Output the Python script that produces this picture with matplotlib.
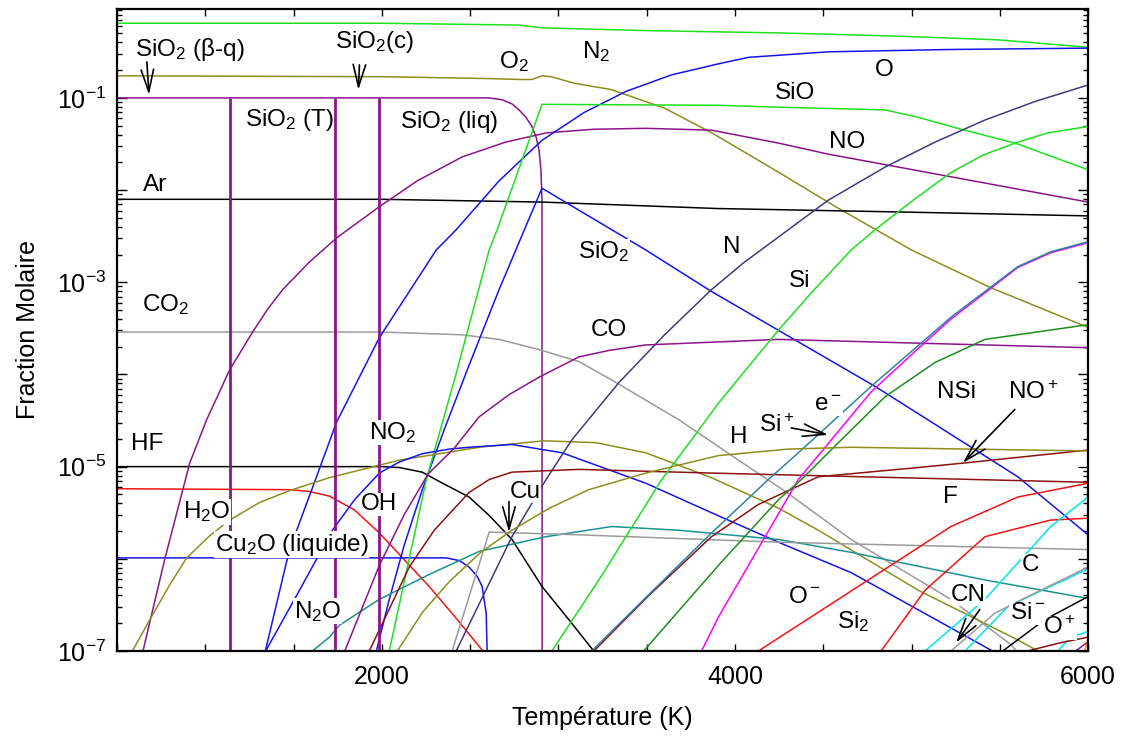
import numpy as np
import matplotlib
matplotlib.use('Agg')
import matplotlib.pyplot as plt
from matplotlib.ticker import LogLocator, FuncFormatter, NullFormatter

plt.rcParams['font.family'] = ['Liberation Sans', 'DejaVu Sans']
plt.rcParams['mathtext.fontset'] = 'custom'
plt.rcParams['mathtext.rm'] = 'Liberation Sans'
plt.rcParams['mathtext.it'] = 'Liberation Sans:italic'
plt.rcParams['mathtext.bf'] = 'Liberation Sans:bold'

# temperature (K) and log10(mole fraction)
t_N2 = [500, 2000, 2780, 2907, 3500, 4250, 4924, 5489, 6000]
lg_N2 = [-0.19, -0.19, -0.21, -0.24, -0.27, -0.295, -0.33, -0.37, -0.45]

t_O2 = [500, 2000, 2600, 2780, 2850, 2907, 2960, 3088, 3300, 3600, 3870, 4250, 4570, 5000, 5450, 6000]
lg_O2 = [-0.76, -0.77, -0.79, -0.80, -0.80, -0.76, -0.77, -0.84, -0.91, -1.11, -1.38, -1.81, -2.18, -2.65, -3.06, -3.49]

t_SiO2_cd = [500, 2000, 2608, 2681, 2737, 2777, 2816, 2850, 2873, 2890, 2901, 2907, 2908]
lg_SiO2_cd = [-1.0, -1.0, -1.0, -1.02, -1.065, -1.13, -1.21, -1.31, -1.42, -1.56, -1.78, -2.1, -8.0]
t_SiO2_phase = [1138, 1737, 1986]  # beta-quartz / tridymite / cristobalite / liquid

t_Ar = [500, 2000, 2907, 3900, 5000, 6000]
lg_Ar = [-2.10, -2.10, -2.13, -2.20, -2.24, -2.28]

t_CO2 = [500, 2000, 2455, 2664, 2890, 3116, 3302, 3681, 4020, 4286, 4658, 5223, 5562, 5620]
lg_CO2 = [-3.54, -3.54, -3.57, -3.62, -3.73, -3.86, -4.06, -4.49, -4.93, -5.27, -5.79, -6.44, -6.93, -7.05]

t_HF = [500, 2000, 2099, 2229, 2324, 2494, 2608, 2737, 2907, 3059, 3200]
lg_HF = [-5.0, -5.0, -5.01, -5.06, -5.16, -5.33, -5.53, -5.79, -6.30, -6.66, -7.0]

t_H2O = [500, 1480, 1590, 1703, 1845, 1986, 2127, 2268, 2410, 2568, 2580]
lg_H2O = [-5.24, -5.25, -5.27, -5.32, -5.47, -5.72, -6.01, -6.30, -6.62, -6.99, -7.1]

t_Cu2O = [500, 2365, 2440, 2494, 2540, 2568, 2591, 2596, 2598]
lg_Cu2O = [-5.99, -5.99, -6.02, -6.09, -6.19, -6.30, -6.59, -6.99, -7.3]

t_NO = [647, 771, 912, 1008, 1138, 1268, 1350, 1438, 1590, 1743, 1986, 2200, 2455, 2700, 2930, 3200, 3495, 3867, 4246, 4528, 6000]
lg_NO = [-7.0, -6.0, -4.96, -4.49, -3.95, -3.54, -3.30, -3.08, -2.78, -2.52, -2.18, -1.90, -1.64, -1.48, -1.38, -1.34, -1.33, -1.35, -1.49, -1.61, -2.13]

t_SiO2_g = [1969, 2042, 2127, 2229, 2353, 2494, 2664, 2794, 2907, 3495, 3867, 4794, 5602, 6000]
lg_SiO2_g = [-7.0, -6.44, -5.85, -5.25, -4.60, -3.90, -3.08, -2.49, -1.98, -2.65, -3.10, -4.13, -5.11, -5.74]

t_O = [1340, 1477, 1630, 1743, 1986, 2308, 2421, 2664, 2907, 3144, 3382, 3641, 3907, 4076, 4528, 5206, 6000]
lg_O = [-7.0, -5.9, -5.11, -4.52, -3.60, -2.65, -2.43, -1.90, -1.46, -1.16, -0.93, -0.75, -0.63, -0.56, -0.50, -0.475, -0.46]

t_SiO = [2042, 2252, 2421, 2608, 2653, 2907, 3907, 4229, 4851, 5037, 5223, 5602, 6000]
lg_SiO = [-7.0, -5.14, -3.99, -2.65, -2.43, -1.07, -1.08, -1.10, -1.13, -1.21, -1.31, -1.50, -1.78]

t_NO2 = [590, 686, 799, 895, 1025, 1138, 1307, 1477, 1703, 2099, 2551, 2918, 3212, 3495, 3867, 4246, 4472, 5037, 5602, 5715]
lg_NO2 = [-6.99, -6.66, -6.28, -5.99, -5.75, -5.58, -5.39, -5.26, -5.12, -4.93, -4.79, -4.72, -4.74, -4.85, -5.12, -5.45, -5.69, -6.34, -6.88, -7.0]

t_OH = [1342, 1534, 1720, 1845, 1986, 2099, 2229, 2381, 2494, 2737, 3020, 3495, 3867, 4246, 4658, 5449]
lg_OH = [-7.0, -6.34, -5.69, -5.36, -5.07, -4.95, -4.86, -4.81, -4.79, -4.76, -4.85, -5.18, -5.50, -5.82, -6.15, -6.99]

t_N2O = [1607, 1703, 1760, 1986, 2268, 2551, 2930, 3302, 3681, 4246, 4658, 5416, 6000]
lg_N2O = [-7.0, -6.85, -6.72, -6.44, -6.17, -5.92, -5.76, -5.65, -5.69, -5.79, -5.93, -6.23, -6.43]

t_Cu = [2398, 2608, 3116, 4246, 6000]
lg_Cu = [-7.0, -5.71, -5.74, -5.82, -5.90]

t_N = [2421, 2737, 2930, 3076, 3342, 3596, 3867, 4048, 4246, 4528, 4851, 5133, 5416, 5698, 6000]
lg_N = [-7.0, -5.76, -5.14, -4.71, -4.09, -3.58, -3.08, -2.79, -2.51, -2.11, -1.75, -1.48, -1.24, -1.04, -0.86]

t_CO = [1790, 1986, 2127, 2262, 2410, 2551, 2720, 2890, 3116, 3285, 3495, 4246, 6000]
lg_CO = [-7.0, -6.07, -5.52, -5.08, -4.80, -4.46, -4.22, -4.03, -3.81, -3.74, -3.68, -3.62, -3.71]

t_F = [1929, 1986, 2155, 2297, 2494, 2608, 2737, 3116, 3867, 6000]
lg_F = [-7.0, -6.77, -6.09, -5.69, -5.28, -5.14, -5.06, -5.03, -5.07, -5.17]

t_NOp = [3201, 3511, 3867, 4133, 4472, 5037, 5303, 6000]
lg_NOp = [-7.0, -6.40, -5.76, -5.41, -5.11, -5.01, -4.96, -4.82]

t_em = [3189, 3511, 3867, 4189, 4359, 4771, 5223, 5602, 5788, 6000]
lg_em = [-7.0, -6.39, -5.72, -5.14, -4.85, -4.13, -3.38, -2.83, -2.67, -2.56]

t_Sip = [3811, 3907, 4359, 4771, 5037, 5223, 5602, 5788, 6000]
lg_Sip = [-7.0, -6.63, -5.14, -4.19, -3.72, -3.40, -2.84, -2.68, -2.57]

t_NSi = [3483, 3907, 4246, 4376, 4602, 4851, 5133, 5416, 6000]
lg_NSi = [-7.0, -6.07, -5.36, -5.14, -4.71, -4.24, -3.87, -3.62, -3.46]

t_Si = [2963, 3229, 3585, 3754, 3907, 4246, 4444, 4658, 4794, 5009, 5223, 5405, 5602, 5771, 6000]
lg_Si = [-7.0, -6.23, -5.14, -4.71, -4.31, -3.52, -3.09, -2.65, -2.43, -2.11, -1.81, -1.62, -1.48, -1.38, -1.31]

t_H = [2088, 2230, 2381, 2560, 2737, 2950, 3172, 3495, 3907, 4300, 4658, 6000]
lg_H = [-7.0, -6.58, -6.25, -5.93, -5.69, -5.45, -5.25, -5.07, -4.88, -4.81, -4.79, -4.83]

t_Om = [4133, 4698, 4924, 5223, 5602, 6000]
lg_Om = [-7.0, -6.30, -6.02, -5.65, -5.33, -5.18]

t_Si2 = [4828, 5077, 5416, 5788, 6000]
lg_Si2 = [-7.0, -6.34, -5.76, -5.58, -5.56]

t_C = [5077, 5416, 5788, 6000]
lg_C = [-7.0, -6.44, -5.65, -5.33]

t_Sim = [5303, 5545, 5619, 6000]
lg_Sim = [-7.0, -6.52, -6.45, -6.11]

t_CN = [5223, 5472, 5658, 6000]
lg_CN = [-7.0, -6.59, -6.41, -6.09]

t_Op = [5517, 5755, 6000]
lg_Op = [-7.0, -6.66, -6.41]

# small unlabeled species just entering in the lower right corner
t_minor_cyan = [5830, 5901, 6000]
lg_minor_cyan = [-7.0, -6.85, -6.79]
t_minor_brown = [5658, 5845, 6000]
lg_minor_brown = [-7.0, -6.91, -6.85]
t_minor_purple = [5930, 6000]
lg_minor_purple = [-7.0, -6.90]
t_minor_orange = [5980, 6000]
lg_minor_orange = [-7.0, -6.88]

GREEN = '#1ee01e'
OLIVE = '#8e8e1e'
PURPLE = '#8a158a'
BLUE = '#1414f0'
GRAY = '#9a9a9a'
RED = '#f01414'
NAVY = '#3c3c7c'
TEAL = '#1e9090'
BROWN = '#8b1212'
STEEL = '#2c84a0'
MAGENTA = '#ff00ff'
DKGREEN = '#1e8c1e'
CYAN = '#00e6f0'

series = [
    (t_N2, lg_N2, GREEN), (t_O2, lg_O2, OLIVE), (t_SiO2_cd, lg_SiO2_cd, PURPLE),
    (t_Ar, lg_Ar, 'black'), (t_CO2, lg_CO2, GRAY), (t_HF, lg_HF, 'black'),
    (t_H2O, lg_H2O, RED), (t_Cu2O, lg_Cu2O, BLUE), (t_NO, lg_NO, PURPLE),
    (t_SiO2_g, lg_SiO2_g, BLUE), (t_O, lg_O, BLUE), (t_SiO, lg_SiO, GREEN),
    (t_NO2, lg_NO2, OLIVE), (t_OH, lg_OH, BLUE), (t_N2O, lg_N2O, TEAL),
    (t_Cu, lg_Cu, GRAY), (t_N, lg_N, NAVY), (t_CO, lg_CO, PURPLE),
    (t_F, lg_F, BROWN), (t_NOp, lg_NOp, BROWN), (t_Sip, lg_Sip, MAGENTA),
    (t_em, lg_em, STEEL), (t_NSi, lg_NSi, DKGREEN), (t_Si, lg_Si, GREEN),
    (t_H, lg_H, OLIVE), (t_Om, lg_Om, RED), (t_Si2, lg_Si2, RED),
    (t_C, lg_C, CYAN), (t_Sim, lg_Sim, CYAN), (t_CN, lg_CN, GRAY),
    (t_Op, lg_Op, 'black'), (t_minor_cyan, lg_minor_cyan, CYAN),
    (t_minor_brown, lg_minor_brown, BROWN), (t_minor_purple, lg_minor_purple, PURPLE),
    (t_minor_orange, lg_minor_orange, '#ff8c00'),
]

# label placement (T, log10 y)
labels = [
    ('SiO$_2$ (β-q)', 912, -0.48), ('SiO$_2$(c)', 1958, -0.39), ('O$_2$', 2749, -0.61),
    ('N$_2$', 3212, -0.50), ('SiO$_2$ (T)', 1477, -1.24), ('SiO$_2$ (liq)', 2381, -1.26),
    ('SiO', 4342, -0.946), ('O', 4845, -0.70), ('NO', 4636, -1.477), ('Ar', 715, -1.944),
    ('SiO$_2$', 3257, -2.67), ('N', 3980, -2.616), ('Si', 4365, -2.985),
    ('CO$_2$', 777, -3.245), ('CO', 3285, -3.516), ('NSi', 5252, -4.19),
    ('NO$^+$', 5687, -4.20), ('e$^-$', 4528, -4.33), ('Si$^+$', 4235, -4.55),
    ('H', 4020, -4.68), ('HF', 670, -4.76), ('NO$_2$', 2059, -4.63), ('F', 5223, -5.33),
    ('H$_2$O', 1008, -5.49), ('OH', 1986, -5.41), ('Cu', 2811, -5.27),
    ('Cu$_2$O (liquide)', 1489, -5.85), ('C', 5675, -6.07), ('O$^-$', 4393, -6.41),
    ('CN', 5319, -6.39), ('Si$^-$', 5658, -6.59), ('N$_2$O', 1636, -6.57),
    ('Si$_2$', 4670, -6.68), ('O$^+$', 5839, -6.75),
]

# arrows: (T start, log start, T end, log end)
arrows = [
    (669, -0.61, 681, -0.967), (1873, -0.642, 1867, -0.913), (2720, -5.38, 2720, -5.71),
    (4319, -4.58, 4528, -4.655), (5585, -4.38, 5291, -4.96), (5387, -6.55, 5252, -6.91),
]

fig = plt.figure(figsize=(11.23, 7.40), dpi=100)
ax = fig.add_axes([0.1042, 0.1203, 0.8647, 0.8676])

for t, lg, c in series:
    ax.plot(t, 10.0 ** np.array(lg), color=c, lw=1.1)

ax.vlines(t_SiO2_phase, 1e-8, 1e-1, colors=PURPLE, lw=2.0)

for txt, t, lg in labels:
    ax.text(t, 10.0 ** lg, txt, fontsize=17.5, ha='center', va='center', zorder=5,
            bbox=dict(facecolor='white', edgecolor='none', pad=0.4))

for t0, l0, t1, l1 in arrows:
    ax.annotate('', xy=(t1, 10.0 ** l1), xytext=(t0, 10.0 ** l0), zorder=6,
                arrowprops=dict(arrowstyle='->,head_length=1.6,head_width=0.45',
                                color='black', lw=1.2, shrinkA=0, shrinkB=0))

ax.set_yscale('log')
ax.set_xlim(500, 6000)
ax.set_ylim(1e-7, 10 ** -0.035)

ax.set_xticks(np.arange(500, 6001, 500))
ax.xaxis.set_major_formatter(FuncFormatter(lambda v, p: f'{int(v)}' if int(v) in (2000, 4000, 6000) else ''))

def ylab(v, p):
    e = int(round(np.log10(v)))
    return f'$10^{{{e}}}$' if e % 2 else ''

ax.yaxis.set_major_locator(LogLocator(base=10, numticks=20))
ax.yaxis.set_major_formatter(FuncFormatter(ylab))
ax.yaxis.set_minor_locator(LogLocator(base=10, subs=np.arange(2, 10), numticks=20))
ax.yaxis.set_minor_formatter(NullFormatter())

ax.tick_params(which='both', direction='in', top=True, right=True, width=1.0)
ax.tick_params(which='major', length=7, labelsize=18)
ax.tick_params(axis='x', which='major', length=5, pad=10)
ax.tick_params(axis='y', which='major', pad=8)
ax.tick_params(which='minor', length=3.5)
for s in ax.spines.values():
    s.set_linewidth(1.6)

ax.set_xlabel('Température (K)', fontsize=18, labelpad=12)
ax.set_ylabel('Fraction Molaire', fontsize=18, labelpad=12)

fig.savefig('out.png', dpi=100)
